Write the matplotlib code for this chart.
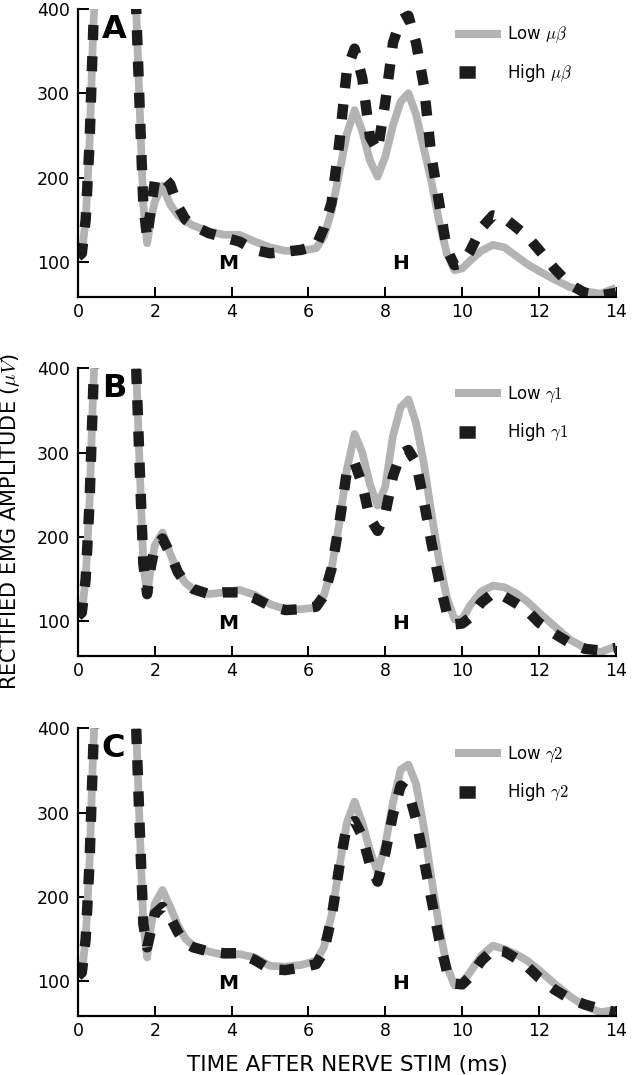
import matplotlib
matplotlib.use("Agg")
import matplotlib.pyplot as plt
from matplotlib.lines import Line2D

plt.rcParams['font.family'] = ['DejaVu Sans']
plt.rcParams['mathtext.fontset'] = 'cm'

# time after nerve stim (ms)
t = [0, 0.1, 0.2, 0.3, 0.4, 0.6, 0.9, 1.2, 1.4, 1.5, 1.6, 1.7, 1.8, 1.9, 2.0,
     2.2, 2.4, 2.6, 2.8, 3.0, 3.4, 3.8, 4.2, 4.6, 5.0, 5.4, 5.8, 6.2, 6.4, 6.6,
     6.8, 7.0, 7.2, 7.4, 7.6, 7.8, 8.0, 8.2, 8.4, 8.6, 8.8, 9.0, 9.2, 9.4, 9.6,
     9.8, 10.0, 10.2, 10.5, 10.8, 11.1, 11.4, 11.7, 12.0, 12.4, 12.8, 13.2, 13.6, 14.0]

# shared stimulus artefact (0 - 1.7 ms), clipped above 400
start = [106, 110, 150, 240, 380, 560, 620, 580, 470, 420, 290, 168]

low_mubeta = start + [122, 150, 172, 190, 168, 155, 148, 143, 136, 132, 132, 124, 117,
                      113, 113, 116, 130, 160, 205, 252, 280, 255, 220, 201, 225, 262,
                      290, 300, 275, 235, 195, 148, 110, 90, 92, 101, 113, 120, 117,
                      107, 97, 89, 79, 70, 65, 62, 69]
high_mubeta = start + [128, 165, 195, 202, 192, 166, 150, 143, 134, 129, 124, 114, 110,
                       112, 114, 119, 140, 170, 240, 328, 353, 318, 248, 232, 290, 360,
                       387, 392, 360, 310, 225, 170, 115, 96, 98, 112, 140, 155, 152,
                       141, 130, 114, 92, 73, 63, 60, 63]

low_g1 = start + [130, 165, 190, 205, 180, 158, 145, 138, 132, 134, 137, 131, 120,
                  114, 114, 116, 130, 162, 215, 280, 322, 300, 262, 237, 260, 320,
                  354, 363, 335, 288, 228, 172, 128, 102, 102, 118, 135, 142, 140,
                  133, 123, 110, 94, 78, 68, 63, 70]
high_g1 = start + [132, 165, 188, 198, 180, 158, 145, 138, 132, 134, 134, 127, 118,
                   113, 114, 117, 130, 162, 215, 278, 288, 262, 222, 207, 228, 272,
                   298, 303, 288, 243, 193, 148, 110, 96, 97, 104, 122, 133, 129,
                   121, 112, 98, 85, 74, 67, 65, 68]

low_g2 = start + [128, 165, 192, 208, 188, 166, 150, 142, 135, 131, 132, 128, 118,
                  117, 119, 124, 140, 178, 235, 288, 313, 288, 255, 230, 262, 312,
                  351, 357, 334, 283, 222, 165, 118, 95, 98, 110, 130, 142, 138,
                  132, 124, 113, 97, 82, 70, 63, 66]
high_g2 = start + [140, 160, 180, 188, 176, 158, 145, 140, 135, 133, 133, 125, 114,
                   113, 116, 120, 135, 175, 235, 285, 290, 272, 238, 218, 252, 298,
                   332, 325, 292, 245, 197, 150, 112, 97, 96, 105, 124, 137, 135,
                   127, 117, 104, 90, 79, 72, 67, 63]

panels = [
    ('A', low_mubeta, high_mubeta, r'$\mu\beta$'),
    ('B', low_g1, high_g1, r'$\gamma1$'),
    ('C', low_g2, high_g2, r'$\gamma2$'),
]

gray = '#b3b3b3'
black = '#1c1c1c'
dash = (0, (1.45, 1.55))

fig = plt.figure(figsize=(6.32, 10.75), dpi=100)
tops = [0.9916, 0.6574, 0.3225]
h = 0.268

for (letter, low, high, sym), top in zip(panels, tops):
    ax = fig.add_axes([0.1234, top - h, 0.851, h])
    ax.plot(t, low, color=gray, lw=5.6, solid_capstyle='butt', solid_joinstyle='round')
    ax.plot(t, high, color=black, lw=7.5, linestyle=dash, dash_capstyle='butt')

    ax.set_xlim(0, 14)
    ax.set_ylim(58, 400)
    ax.set_xticks(range(0, 15, 2))
    ax.set_yticks([100, 200, 300, 400])
    for s in ['top', 'right']:
        ax.spines[s].set_visible(False)
    for s in ['left', 'bottom']:
        ax.spines[s].set_linewidth(1.6)
    ax.tick_params(axis='x', direction='in', length=7.5, width=1.4, pad=4, labelsize=12.5)
    ax.tick_params(axis='y', direction='in', length=8, width=1.4, pad=6, labelsize=12.5)

    ax.text(0.62, 366, letter, fontsize=23, fontweight='bold', ha='left', va='baseline')
    ax.text(3.9, 91, 'M', fontsize=14.5, fontweight='bold', ha='center', va='baseline')
    ax.text(8.4, 91, 'H', fontsize=14.5, fontweight='bold', ha='center', va='baseline')

    handles = [Line2D([], [], color=gray, lw=5.8),
               Line2D([], [], color=black, lw=9, linestyle=(0, (1.3, 10)))]
    ax.legend(handles, ['Low ' + sym, 'High ' + sym], loc='upper left',
              bbox_to_anchor=(0.708, 0.945), frameon=False, fontsize=12,
              handlelength=2.3, handletextpad=0.6, labelspacing=1.0,
              borderpad=0, borderaxespad=0)

fig.text(0.1234 + 0.851 / 2, 0.0093, 'TIME AFTER NERVE STIM (ms)',
         fontsize=15.5, ha='center', va='center')
fig.text(0.016, 0.515, r'RECTIFIED EMG AMPLITUDE ($\mu V$)', fontsize=15,
         rotation=90, ha='center', va='center')

fig.savefig('out.png', dpi=100)
